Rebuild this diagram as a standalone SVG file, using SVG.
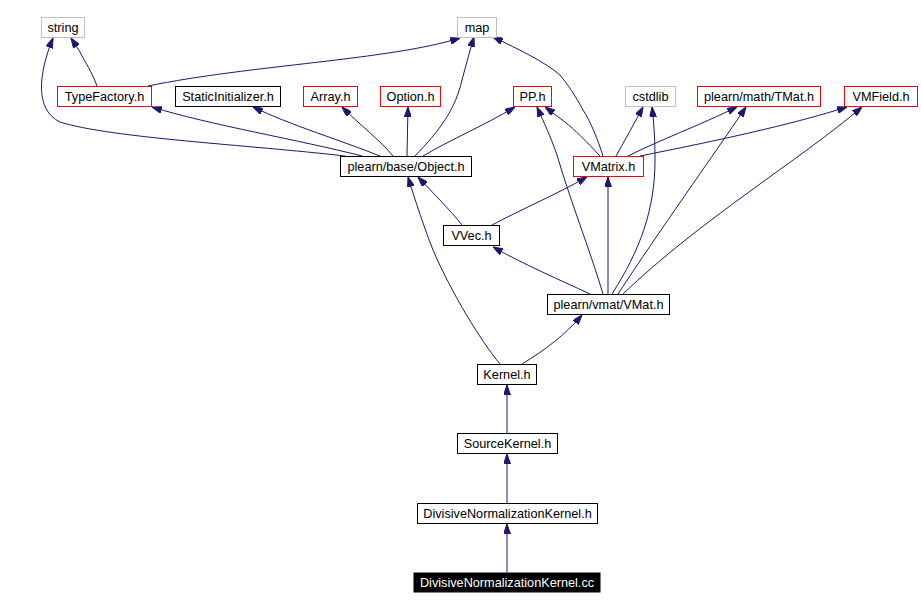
<svg xmlns="http://www.w3.org/2000/svg" width="921" height="609" viewBox="0 0 921 609">
<style>
.n rect{fill:#fff;stroke:#000;stroke-width:1}
.n.r rect{stroke:#ff0000}
.n.g rect{stroke:#bfbfbf}
.n.b rect{fill:#000}
.n text{font-family:"Liberation Sans",Arial,sans-serif;font-size:12.7px;fill:#000;text-anchor:middle}
.n.b text{fill:#fff}
.e path{fill:none;stroke:#191970;stroke-width:1;marker-end:url(#a)}
</style>
<defs>
<marker id="a" viewBox="0 0 10 7" refX="10" refY="3.5" markerWidth="10" markerHeight="7" markerUnits="userSpaceOnUse" orient="auto">
<path d="M0,0 L10,3.5 L0,7 z" fill="#191970" stroke="#191970"/>
</marker>
</defs>
<rect width="921" height="609" fill="#fff"/>
<g class="e">
<path d="M97,86 C92,72 85,62 80,52 L71,38"/>
<path d="M148,86 C250,65 390,60 460,38"/>
<path d="M345,156 C250,145 110,138 60,122 C35,110 38,75 53,38"/>
<path d="M362,156 C300,140 210,125 152,107"/>
<path d="M380,156 C340,140 290,125 253,107"/>
<path d="M393,156 C380,140 360,125 342,107"/>
<path d="M407,156 L408,107"/>
<path d="M415,156 C440,130 455,110 462,80 C466,65 470,50 474,37"/>
<path d="M423,156 C450,140 485,125 515,107"/>
<path d="M603,156 C598,140 590,120 583,110 C575,95 568,85 560,75 C545,62 520,50 493,37"/>
<path d="M600,156 C585,140 575,130 565,122 C558,117 552,112 545,107"/>
<path d="M616,156 C625,140 635,122 643,107"/>
<path d="M628,156 C660,140 700,125 737,107"/>
<path d="M640,156 C720,140 790,125 847,107"/>
<path d="M462,225 C450,210 435,195 418,177"/>
<path d="M492,225 C520,210 555,195 587,177"/>
<path d="M590,294 C560,280 525,265 493,247"/>
<path d="M603,294 C590,250 570,200 557,155 C550,135 545,125 537,107"/>
<path d="M608,294 L608,177"/>
<path d="M612,294 C640,250 655,210 655,160 C655,140 654,125 652,107"/>
<path d="M618,294 C660,230 710,160 746,107"/>
<path d="M623,294 C700,220 800,160 862,107"/>
<path d="M500,364 C480,340 450,290 433,250 C425,230 415,200 408,177"/>
<path d="M522,364 C545,350 565,335 582,315"/>
<path d="M507,433 L507,385"/>
<path d="M507,503 L507,454"/>
<path d="M507,572 L507,524"/>
</g>
<g id="string" class="n g"><rect x="41.5" y="17.5" width="43" height="20"/><text x="63" y="32">string</text></g>
<g id="map" class="n g"><rect x="457.5" y="17.5" width="39" height="20"/><text x="477" y="32">map</text></g>
<g id="TypeFactory" class="n r"><rect x="57.5" y="86.5" width="94" height="20"/><text x="104.5" y="101">TypeFactory.h</text></g>
<g id="StaticInitializer" class="n"><rect x="175.5" y="86.5" width="105" height="20"/><text x="228" y="101">StaticInitializer.h</text></g>
<g id="Array" class="n r"><rect x="303.5" y="86.5" width="54" height="20"/><text x="330.5" y="101">Array.h</text></g>
<g id="Option" class="n r"><rect x="380.5" y="86.5" width="60" height="20"/><text x="410.5" y="101">Option.h</text></g>
<g id="PP" class="n r"><rect x="513.5" y="86.5" width="38" height="20"/><text x="532.5" y="101">PP.h</text></g>
<g id="cstdlib" class="n g"><rect x="625.5" y="86.5" width="50" height="20"/><text x="650.5" y="101">cstdlib</text></g>
<g id="TMat" class="n r"><rect x="697.5" y="86.5" width="123" height="20"/><text x="759" y="101">plearn/math/TMat.h</text></g>
<g id="VMField" class="n r"><rect x="844.5" y="86.5" width="73" height="20"/><text x="881" y="101">VMField.h</text></g>
<g id="Object" class="n"><rect x="340.5" y="156.5" width="131" height="20"/><text x="406" y="171">plearn/base/Object.h</text></g>
<g id="VMatrix" class="n r"><rect x="573.5" y="156.5" width="70" height="20"/><text x="608.5" y="171">VMatrix.h</text></g>
<g id="VVec" class="n"><rect x="443.5" y="225.5" width="56" height="20"/><text x="471.5" y="240">VVec.h</text></g>
<g id="VMat" class="n"><rect x="547.5" y="294.5" width="122" height="20"/><text x="608.5" y="309">plearn/vmat/VMat.h</text></g>
<g id="Kernel" class="n"><rect x="477.5" y="364.5" width="59" height="20"/><text x="507" y="379">Kernel.h</text></g>
<g id="SourceKernel" class="n"><rect x="457.5" y="433.5" width="100" height="20"/><text x="507.5" y="448">SourceKernel.h</text></g>
<g id="DNKh" class="n"><rect x="417.5" y="503.5" width="180" height="20"/><text x="507.5" y="518">DivisiveNormalizationKernel.h</text></g>
<g id="DNKcc" class="n b"><rect x="414" y="573" width="186" height="19"/><text x="507" y="587">DivisiveNormalizationKernel.cc</text></g>
</svg>
